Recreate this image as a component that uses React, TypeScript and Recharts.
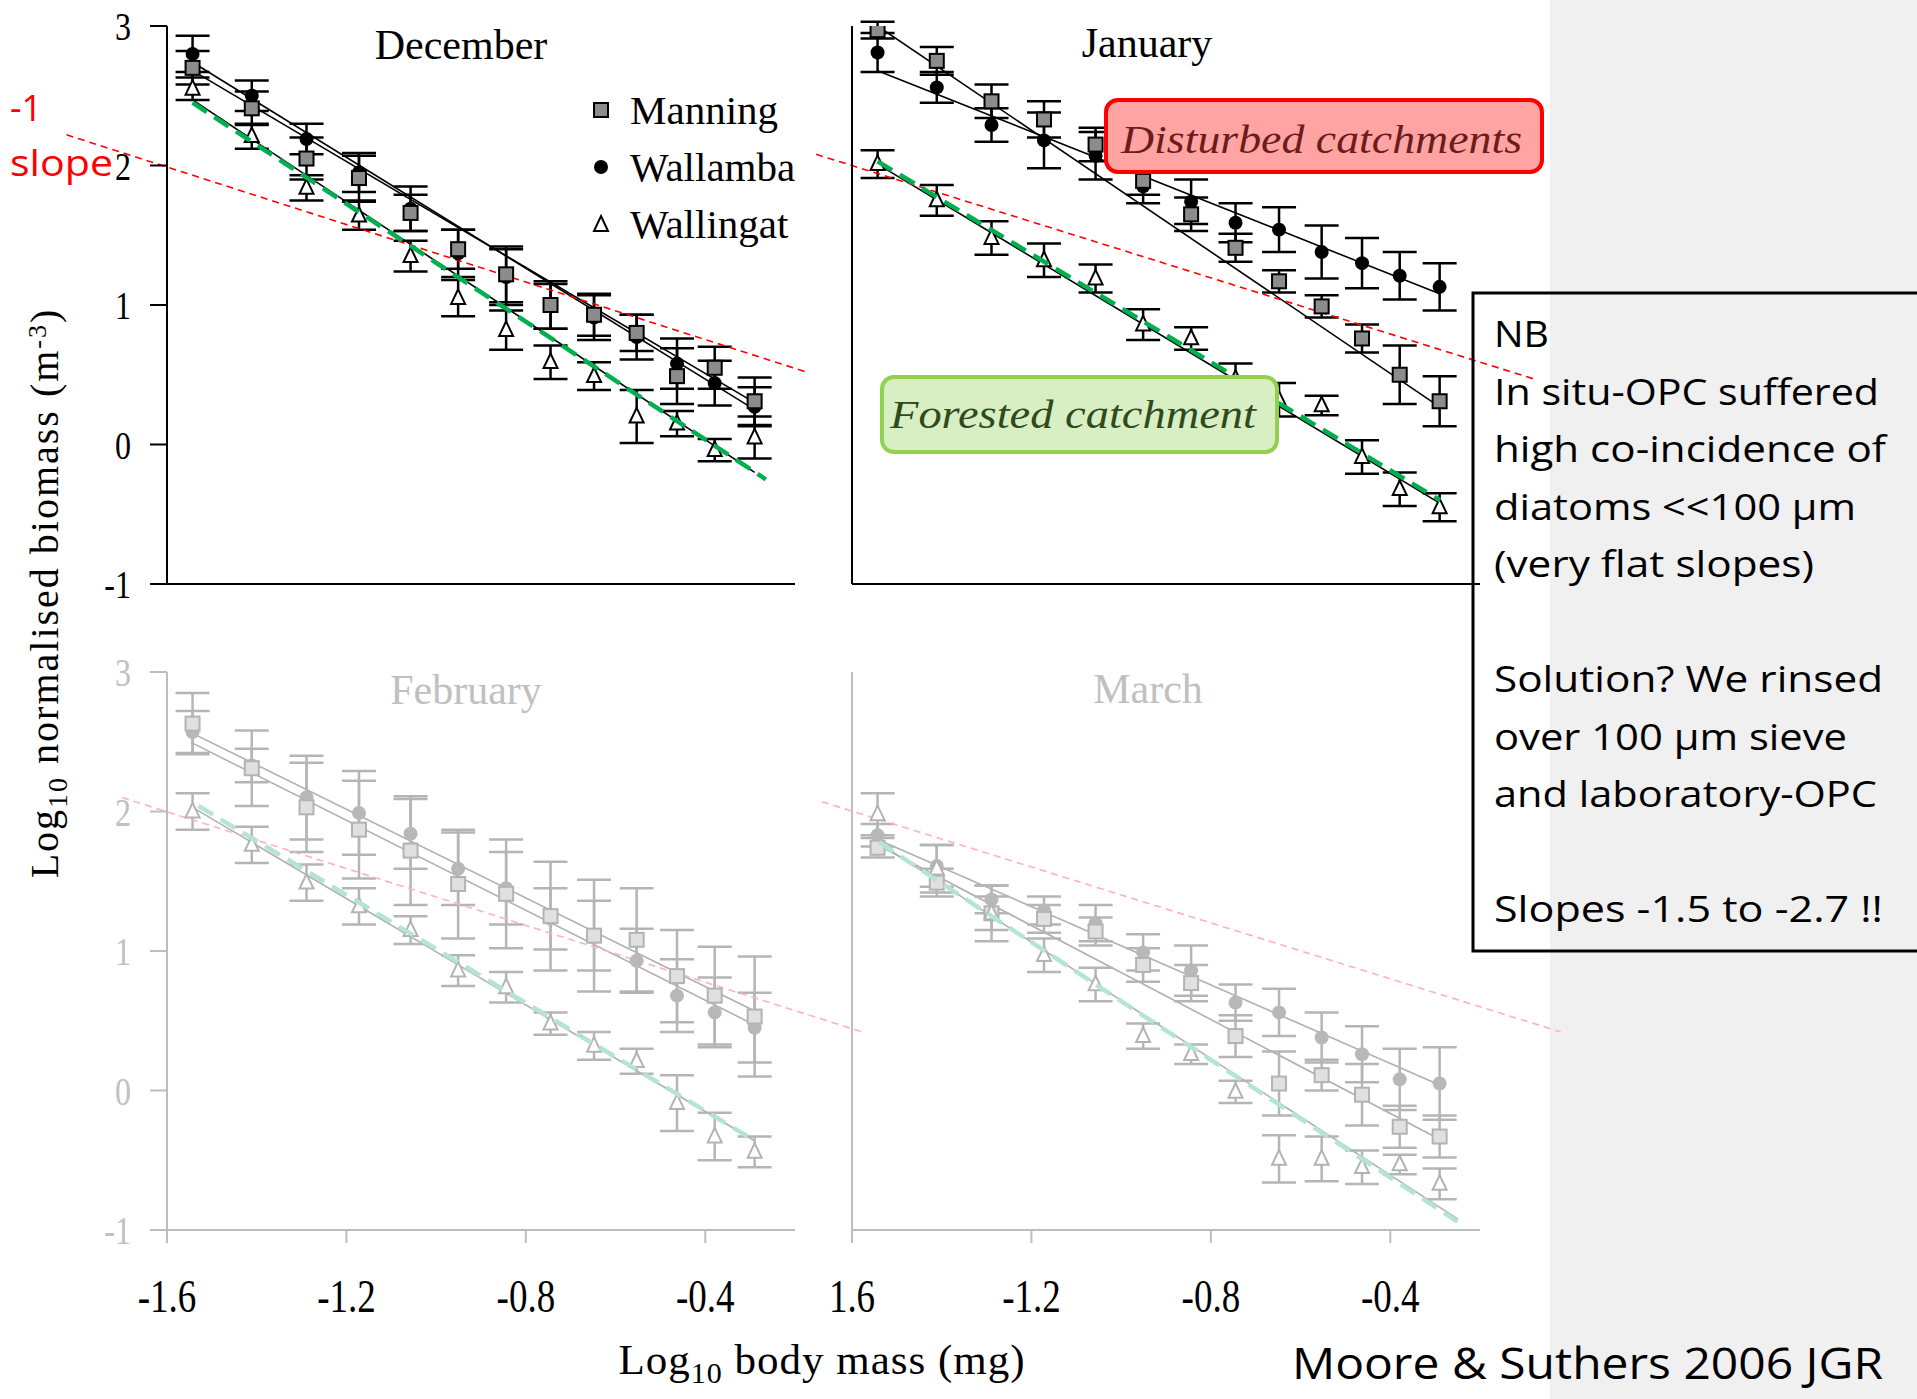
import React from 'react';
import { ComposedChart, Scatter, Line, XAxis, YAxis, ErrorBar, ReferenceLine } from 'recharts';

// ---------- data ----------
const xBins = [-1.543, -1.411, -1.289, -1.172, -1.057, -0.951, -0.844, -0.745, -0.648, -0.553, -0.463, -0.379, -0.29];
const xTicks = [-1.6, -1.2, -0.8, -0.4];
const yTicks = [-1, 0, 1, 2, 3];
const febTickLabels = ['-1.6', '-1.2', '-0.8', '-0.4'];
const marTickLabels = ['1.6', '-1.2', '-0.8', '-0.4'];
const seriesNames = ['Manning', 'Wallamba', 'Wallingat'];
const panelTitles = ['December', 'January', 'February', 'March'];

const decManning = [2.7, 2.41, 2.05, 1.91, 1.66, 1.4, 1.22, 1.0, 0.93, 0.8, 0.49, 0.55, 0.31];
const decManningErr = [0.12, 0.12, 0.15, 0.16, 0.13, 0.14, 0.2, 0.17, 0.15, 0.13, 0.2, 0.15, 0.17];
const decWallamba = [2.8, 2.5, 2.19, 1.95, 1.69, 1.37, 1.2, 0.99, 0.91, 0.77, 0.58, 0.44, 0.27];
const decWallambaErr = [0.13, 0.11, 0.11, 0.14, 0.16, 0.17, 0.2, 0.16, 0.16, 0.16, 0.18, 0.16, 0.14];
const decWallingat = [2.55, 2.21, 1.84, 1.64, 1.35, 1.05, 0.82, 0.59, 0.49, 0.2, 0.15, -0.04, 0.05];
const decWallingatErr = [0.08, 0.09, 0.09, 0.1, 0.11, 0.13, 0.14, 0.12, 0.1, 0.19, 0.09, 0.08, 0.15];

const janManning = [2.97, 2.75, 2.46, 2.33, 2.15, 1.89, 1.65, 1.41, 1.17, 0.99, 0.76, 0.5, 0.31];
const janManningErr = [0.06, 0.1, 0.12, 0.13, 0.12, 0.1, 0.12, 0.1, 0.08, 0.08, 0.1, 0.21, 0.18];
const janWallamba = [2.81, 2.56, 2.29, 2.18, 2.07, 1.85, 1.74, 1.59, 1.54, 1.38, 1.3, 1.21, 1.13];
const janWallambaErr = [0.14, 0.11, 0.12, 0.2, 0.17, 0.12, 0.16, 0.14, 0.16, 0.19, 0.18, 0.17, 0.17];
const janWallingat = [2.01, 1.75, 1.48, 1.32, 1.19, 0.86, 0.76, 0.47, 0.32, 0.28, -0.09, -0.32, -0.45];
const janWallingatErr = [0.1, 0.11, 0.12, 0.12, 0.1, 0.11, 0.08, 0.11, 0.12, 0.07, 0.12, 0.12, 0.1];

const febManning = [2.63, 2.31, 2.03, 1.87, 1.72, 1.48, 1.41, 1.25, 1.11, 1.08, 0.82, 0.68, 0.53];
const febManningErr = [0.22, 0.27, 0.32, 0.35, 0.39, 0.39, 0.39, 0.39, 0.4, 0.37, 0.33, 0.35, 0.43];
const febWallamba = [2.57, 2.33, 2.1, 1.99, 1.84, 1.59, 1.45, 1.23, 1.11, 0.93, 0.68, 0.56, 0.45];
const febWallambaErr = [0.15, 0.12, 0.3, 0.3, 0.25, 0.26, 0.26, 0.22, 0.25, 0.23, 0.26, 0.25, 0.25];
const febWallingat = [2.0, 1.76, 1.49, 1.32, 1.15, 0.86, 0.74, 0.48, 0.32, 0.21, -0.09, -0.33, -0.44];
const febWallingatErr = [0.13, 0.13, 0.13, 0.13, 0.1, 0.11, 0.11, 0.08, 0.1, 0.09, 0.2, 0.17, 0.11];

const marManning = [1.74, 1.49, 1.27, 1.23, 1.14, 0.9, 0.77, 0.39, 0.05, 0.11, -0.03, -0.26, -0.33];
const marManningErr = [0.07, 0.1, 0.12, 0.1, 0.1, 0.12, 0.13, 0.15, 0.23, 0.11, 0.22, 0.15, 0.15];
const marWallamba = [1.83, 1.61, 1.37, 1.29, 1.2, 0.99, 0.86, 0.63, 0.56, 0.38, 0.26, 0.08, 0.05];
const marWallambaErr = [0.08, 0.15, 0.1, 0.1, 0.13, 0.13, 0.18, 0.13, 0.17, 0.18, 0.2, 0.22, 0.26];
const marWallingat = [1.98, 1.59, 1.27, 0.97, 0.76, 0.39, 0.26, -0.01, -0.49, -0.49, -0.55, -0.53, -0.67];
const marWallingatErr = [0.15, 0.17, 0.2, 0.12, 0.12, 0.09, 0.07, 0.08, 0.17, 0.16, 0.12, 0.07, 0.11];

// fitted lines (endpoints)
const fitX = [-1.543, -0.29];
const decFitManning = [2.68, 0.3];
const decFitWallamba = [2.74, 0.25];
const decFitWallingat = [2.47, -0.2];
const janFitManning = [3.0, 0.27];
const janFitWallamba = [2.68, 1.08];
const janFitWallingat = [2.01, -0.42];
const febFitManning = [2.56, 0.57];
const febFitWallamba = [2.49, 0.47];
const febFitWallingat = [2.03, -0.36];
const marFitManning = [1.76, -0.35];
const marFitWallamba = [1.8, 0.04];
const marFitWallingatX = [-1.543, -0.25];
const marFitWallingat = [1.78, -0.92];

const decGreenX = [-1.543, -0.265];
const decGreenY = [2.45, -0.25];
const janGreenX = [-1.543, -0.289];
const janGreenY = [2.03, -0.4];
const febGreenX = [-1.53, -0.3];
const febGreenY = [2.04, -0.34];
const marGreenX = [-1.54, -0.25];
const marGreenY = [1.78, -0.94];

// -1 slope reference lines
const decRedX = [-1.824, -0.175];
const decRedY = [2.22, 0.52];
const janRedX = [-1.68, -0.08];
const janRedY = [2.08, 0.47];
const febRedX = [-1.7, -0.05];
const febRedY = [2.1, 0.42];
const marRedX = [-1.667, -0.02];
const marRedY = [2.07, 0.42];

const nbLines = [
  'NB',
  'In situ-OPC suffered',
  'high co-incidence of',
  'diatoms <<100 \u00b5m',
  '(very flat slopes)',
  '',
  'Solution? We rinsed',
  'over 100 \u00b5m sieve',
  'and laboratory-OPC',
  '',
  'Slopes -1.5 to -2.7 !!',
];
const nbWidths = [55, 385, 392, 362, 320, 0, 389, 353, 383, 0, 389];

// ---------- helpers ----------
const pts = (ys: number[], errs: number[]) => xBins.map((x, i) => ({ x, y: ys[i], err: errs[i] }));
const seg = (xs: number[], ys: number[]) => xs.map((x, i) => ({ x, y: ys[i] }));

const DARK = {
  axis: '#000000', text: '#000000', manFill: '#8c8c8c', manStroke: '#000000', walFill: '#000000',
  triStroke: '#000000', err: '#000000', fit: '#000000', red: '#ff0000', green: '#00b050',
};
const LIGHT = {
  axis: '#bdbdbd', text: '#c0c0c0', manFill: '#e0e0e0', manStroke: '#b3b3b3', walFill: '#b8b8b8',
  triStroke: '#b3b3b3', err: '#b5b5b5', fit: '#b0b0b0', red: '#ffb3b3', green: '#b3e6cf',
};

const squareShape = (fill: string, stroke: string, s: number) => (p: any) =>
  p.cx == null ? <g /> : <rect x={p.cx - s / 2} y={p.cy - s / 2} width={s} height={s} fill={fill} stroke={stroke} strokeWidth={2} />;
const circleShape = (fill: string, r: number) => (p: any) =>
  p.cx == null ? <g /> : <circle cx={p.cx} cy={p.cy} r={r} fill={fill} />;
const triShape = (stroke: string, s: number) => (p: any) =>
  p.cx == null ? <g /> : (
    <path d={`M${p.cx},${p.cy - s * 0.62} L${p.cx + s / 2},${p.cy + s * 0.42} L${p.cx - s / 2},${p.cy + s * 0.42} Z`} fill="#ffffff" stroke={stroke} strokeWidth={2} />
  );

type PanelProps = {
  left: number; top: number; width: number; height: number;
  margin: { top: number; right: number; bottom: number; left: number };
  yAxisWidth: number; xAxisHeight: number; theme: typeof DARK;
  manning: any[]; wallamba: any[]; wallingat: any[];
  fits: any[][]; green: any[]; red: any[];
  yLabels: boolean; xLabels: string[] | null;
};

function Panel(props: PanelProps) {
  const { left, top, width, height, margin, yAxisWidth, xAxisHeight, theme: t, xLabels } = props;
  const serif = '"Liberation Serif", "Times New Roman", serif';
  const yTick = (p: any) => (
    <text transform={`translate(${p.x},${p.y}) scale(1,1.25)`} textAnchor="end" dy="0.35em" fontFamily={serif} fontSize={32} fill={t.text}>
      {p.payload.value}
    </text>
  );
  const xTick = (p: any) => (
    <text transform={`translate(${p.x},${p.y}) scale(1,1.25)`} textAnchor="middle" dy="0.72em" fontFamily={serif} fontSize={37} fill="#000000">
      {xLabels ? xLabels[p.index] : ''}
    </text>
  );
  return (
    <div style={{ position: 'absolute', left, top, width, height }}>
      <ComposedChart width={width} height={height} margin={margin}>
        <XAxis
          type="number" dataKey="x" domain={[-1.6, -0.2]} ticks={xTicks} allowDataOverflow interval={0}
          height={xAxisHeight} tickSize={13} tickMargin={36}
          axisLine={{ stroke: t.axis, strokeWidth: 2 }} tickLine={{ stroke: t.axis, strokeWidth: 2 }}
          tick={xLabels ? xTick : false}
        />
        <YAxis
          type="number" dataKey="y" domain={[-1, 3]} ticks={yTicks} allowDataOverflow interval={0}
          width={yAxisWidth} tickSize={17} tickMargin={19}
          axisLine={{ stroke: t.axis, strokeWidth: 2 }} tickLine={{ stroke: t.axis, strokeWidth: 2 }}
          tick={props.yLabels ? yTick : false}
        />
        {props.fits.map((f, i) => (
          <Line key={'fit' + i} data={f} dataKey="y" stroke={t.fit} strokeWidth={1.6} dot={false} activeDot={false} isAnimationActive={false} />
        ))}
        <Scatter data={props.wallamba} dataKey="y" shape={circleShape(t.walFill, 7)} isAnimationActive={false}>
          <ErrorBar dataKey="err" direction="y" width={17} stroke={t.err} strokeWidth={2.5} />
        </Scatter>
        <Scatter data={props.manning} dataKey="y" shape={squareShape(t.manFill, t.manStroke, 14)} isAnimationActive={false}>
          <ErrorBar dataKey="err" direction="y" width={17} stroke={t.err} strokeWidth={2.5} />
        </Scatter>
        <Scatter data={props.wallingat} dataKey="y" shape={triShape(t.triStroke, 14)} isAnimationActive={false}>
          <ErrorBar dataKey="err" direction="y" width={17} stroke={t.err} strokeWidth={2.5} />
        </Scatter>
        <Line data={props.green} dataKey="y" stroke={t.green} strokeWidth={4.5} strokeDasharray="17 9" dot={false} activeDot={false} isAnimationActive={false} zIndex={700} />
        <ReferenceLine segment={props.red} stroke={t.red} strokeWidth={1.6} strokeDasharray="7 5" ifOverflow="visible" />
      </ComposedChart>
    </div>
  );
}

export default function App() {
  const serif = '"Liberation Serif", "Times New Roman", serif';
  const sans = '"Open Sans", "Noto Sans", sans-serif';
  const topMargin = { top: 26, right: 35, bottom: 26, left: 107 };
  const plotH = 558;
  return (
    <div style={{ position: 'absolute', left: 0, top: 0, width: 1917, height: 1399, background: '#ffffff', overflow: 'hidden' }}>
      <div style={{ position: 'absolute', left: 1550, top: 0, width: 367, height: 1399, background: '#f0f0f0' }} />

      <Panel
        left={0} top={0} width={830} height={640}
        margin={topMargin} yAxisWidth={60} xAxisHeight={30} theme={DARK}
        manning={pts(decManning, decManningErr)} wallamba={pts(decWallamba, decWallambaErr)} wallingat={pts(decWallingat, decWallingatErr)}
        fits={[seg(fitX, decFitManning), seg(fitX, decFitWallamba), seg(fitX, decFitWallingat)]}
        green={seg(decGreenX, decGreenY)} red={seg(decRedX, decRedY)} yLabels xLabels={null}
      />
      <Panel
        left={780} top={0} width={800} height={640}
        margin={{ top: 26, right: 100, bottom: 26, left: 42 }} yAxisWidth={30} xAxisHeight={30} theme={DARK}
        manning={pts(janManning, janManningErr)} wallamba={pts(janWallamba, janWallambaErr)} wallingat={pts(janWallingat, janWallingatErr)}
        fits={[seg(fitX, janFitManning), seg(fitX, janFitWallamba), seg(fitX, janFitWallingat)]}
        green={seg(janGreenX, janGreenY)} red={seg(janRedX, janRedY)} yLabels={false} xLabels={null}
      />
      <Panel
        left={0} top={630} width={900} height={720}
        margin={{ top: 42, right: 105, bottom: 720 - 42 - plotH - 110, left: 107 }} yAxisWidth={60} xAxisHeight={110} theme={LIGHT}
        manning={pts(febManning, febManningErr)} wallamba={pts(febWallamba, febWallambaErr)} wallingat={pts(febWallingat, febWallingatErr)}
        fits={[seg(fitX, febFitManning), seg(fitX, febFitWallamba), seg(fitX, febFitWallingat)]}
        green={seg(febGreenX, febGreenY)} red={seg(febRedX, febRedY)} yLabels xLabels={febTickLabels}
      />
      <Panel
        left={780} top={630} width={800} height={720}
        margin={{ top: 42, right: 100, bottom: 720 - 42 - plotH - 110, left: 42 }} yAxisWidth={30} xAxisHeight={110} theme={LIGHT}
        manning={pts(marManning, marManningErr)} wallamba={pts(marWallamba, marWallambaErr)} wallingat={pts(marWallingat, marWallingatErr)}
        fits={[seg(fitX, marFitManning), seg(fitX, marFitWallamba), seg(marFitWallingatX, marFitWallingat)]}
        green={seg(marGreenX, marGreenY)} red={seg(marRedX, marRedY)} yLabels={false} xLabels={marTickLabels}
      />

      <svg width={1917} height={1399} style={{ position: 'absolute', left: 0, top: 0, pointerEvents: 'none' }}>
        {/* panel titles */}
        <text x={461} y={59} textAnchor="middle" fontFamily={serif} fontSize={42} fill="#000">{panelTitles[0]}</text>
        <text x={1147} y={57} textAnchor="middle" fontFamily={serif} fontSize={42} fill="#000">{panelTitles[1]}</text>
        <text x={466} y={704} textAnchor="middle" fontFamily={serif} fontSize={42} fill="#c0c0c0">{panelTitles[2]}</text>
        <text x={1148} y={703} textAnchor="middle" fontFamily={serif} fontSize={42} fill="#c0c0c0">{panelTitles[3]}</text>

        {/* legend */}
        <rect x={594} y={103} width={14} height={14} fill="#8c8c8c" stroke="#000" strokeWidth={2} />
        <circle cx={601} cy={167} r={7} fill="#000" />
        <path d="M601,216 L608,231 L594,231 Z" fill="#fff" stroke="#000" strokeWidth={2} />
        <text x={630} y={124} fontFamily={serif} fontSize={41} fill="#000">{seriesNames[0]}</text>
        <text x={630} y={181} fontFamily={serif} fontSize={41} fill="#000">{seriesNames[1]}</text>
        <text x={630} y={238} fontFamily={serif} fontSize={41} fill="#000">{seriesNames[2]}</text>

        {/* -1 slope */}
        <text x={10} y={121} fontFamily={sans} fontSize={36} fill="#ff0000">-1</text>
        <text x={10} y={176} fontFamily={sans} fontSize={36} fill="#ff0000" textLength={103} lengthAdjust="spacingAndGlyphs">slope</text>

        {/* axis titles */}
        <text transform="translate(58,593) rotate(-90)" textAnchor="middle" fontFamily={serif} fontSize={40} letterSpacing={2} fill="#000">
          Log<tspan dy={9} fontSize={28}>10</tspan><tspan dy={-9}> normalised biomass (m</tspan><tspan dy={-12} fontSize={26}>-3</tspan><tspan dy={12}>)</tspan>
        </text>
        <text x={822} y={1374} textAnchor="middle" fontFamily={serif} fontSize={43} letterSpacing={1} fill="#000">
          Log<tspan dy={9} fontSize={30}>10</tspan><tspan dy={-9}> body mass (mg)</tspan>
        </text>

        {/* annotation boxes */}
        <rect x={1106} y={100} width={436} height={72} rx={12} fill="#ffa3a3" stroke="#ff0000" strokeWidth={4} />
        <text x={1121} y={153} fontFamily={serif} fontStyle="italic" fontSize={40} fill="#6b1d1d" textLength={401} lengthAdjust="spacingAndGlyphs">Disturbed catchments</text>
        <rect x={882} y={377} width={395} height={75} rx={12} fill="#d8eec3" stroke="#92d050" strokeWidth={4} />
        <text x={890} y={428} fontFamily={serif} fontStyle="italic" fontSize={40} fill="#2f4a1c" textLength={366} lengthAdjust="spacingAndGlyphs">Forested catchment</text>

        {/* NB box */}
        <rect x={1473} y={293} width={520} height={658} fill="none" stroke="#000" strokeWidth={3} />
        {nbLines.map((l, i) =>
          l ? (
            <text key={i} x={1494} y={347 + i * 57.5} fontFamily={sans} fontSize={37} fill="#000" textLength={nbWidths[i]} lengthAdjust="spacingAndGlyphs">{l}</text>
          ) : null
        )}

        <text x={1292} y={1379} fontFamily={sans} fontSize={44} fill="#000" textLength={591} lengthAdjust="spacingAndGlyphs">Moore &amp; Suthers 2006  JGR</text>
      </svg>
    </div>
  );
}
